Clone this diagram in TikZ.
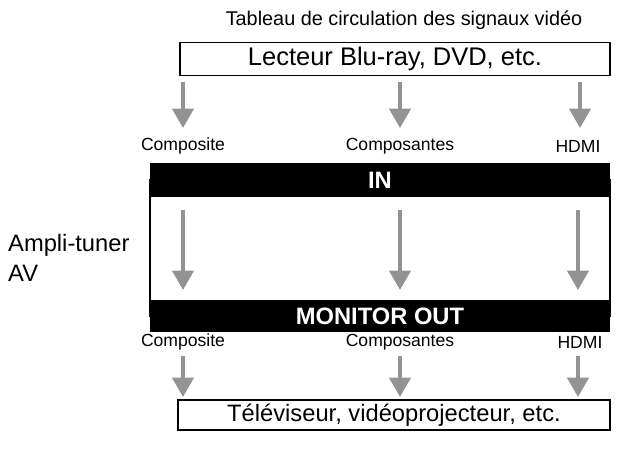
\documentclass[tikz,border=0pt]{standalone}
\usepackage{fontspec}
\setmainfont{Liberation Sans}
\usetikzlibrary{arrows.meta,positioning}
\begin{document}
\begin{tikzpicture}[x=0.02cm,y=-0.02cm,
  box/.style={draw,line width=0.6pt,inner sep=0pt},
  bar/.style={fill=black,text=white,inner sep=0pt,font=\bfseries\fontsize{13.5}{15}\selectfont},
  sig/.style={draw=gray!85,line width=2.2pt,-{Triangle[width=12pt,length=11pt]}},
  lbl/.style={font=\fontsize{10}{12}\selectfont}]
  \useasboundingbox (0,0) rectangle (620,454);
  \node[font=\fontsize{11.3}{13}\selectfont] (title) at (404,20) {Tableau de circulation des signaux vidéo};
  \node[box,minimum width=430*0.02cm,minimum height=33*0.02cm,font=\fontsize{14.5}{16}\selectfont] (src) at (395,59) {Lecteur Blu-ray, DVD, etc.};
  % amplifier
  \draw[line width=0.6pt] (150,180) rectangle (610,316);
  \node[bar,minimum width=460*0.02cm,minimum height=34*0.02cm] (in) at (380,180) {IN};
  \node[bar,minimum width=460*0.02cm,minimum height=32*0.02cm] (out) at (380,316) {MONITOR OUT};
  \node[align=left,anchor=west,font=\fontsize{13.5}{17}\selectfont] (amp) at (2,258) {Ampli-tuner\\AV};
  \node[box,minimum width=432*0.02cm,minimum height=30*0.02cm,font=\fontsize{13.5}{15}\selectfont] (tv) at (394,415) {Téléviseur, vidéoprojecteur, etc.};
  % labels
  \node[lbl] (c1) at (183,146) {Composite};
  \node[lbl] (c2) at (400,146) {Composantes};
  \node[lbl] (c3) at (578,146) {HDMI};
  \node[lbl] (d1) at (183,342) {Composite};
  \node[lbl] (d2) at (400,342) {Composantes};
  \node[lbl] (d3) at (580,342) {HDMI};
  % arrows
  \foreach \x in {183,400,580} {
    \coordinate (a) at (\x,82); \coordinate (b) at (\x,128);
    \draw[sig] (a) -- (b);
  }
  \foreach \x in {183,400,578} {
    \coordinate (a) at (\x,210); \coordinate (b) at (\x,290);
    \draw[sig] (a) -- (b);
    \coordinate (c) at (\x,356); \coordinate (d) at (\x,397);
    \draw[sig] (c) -- (d);
  }
\end{tikzpicture}
\end{document}
